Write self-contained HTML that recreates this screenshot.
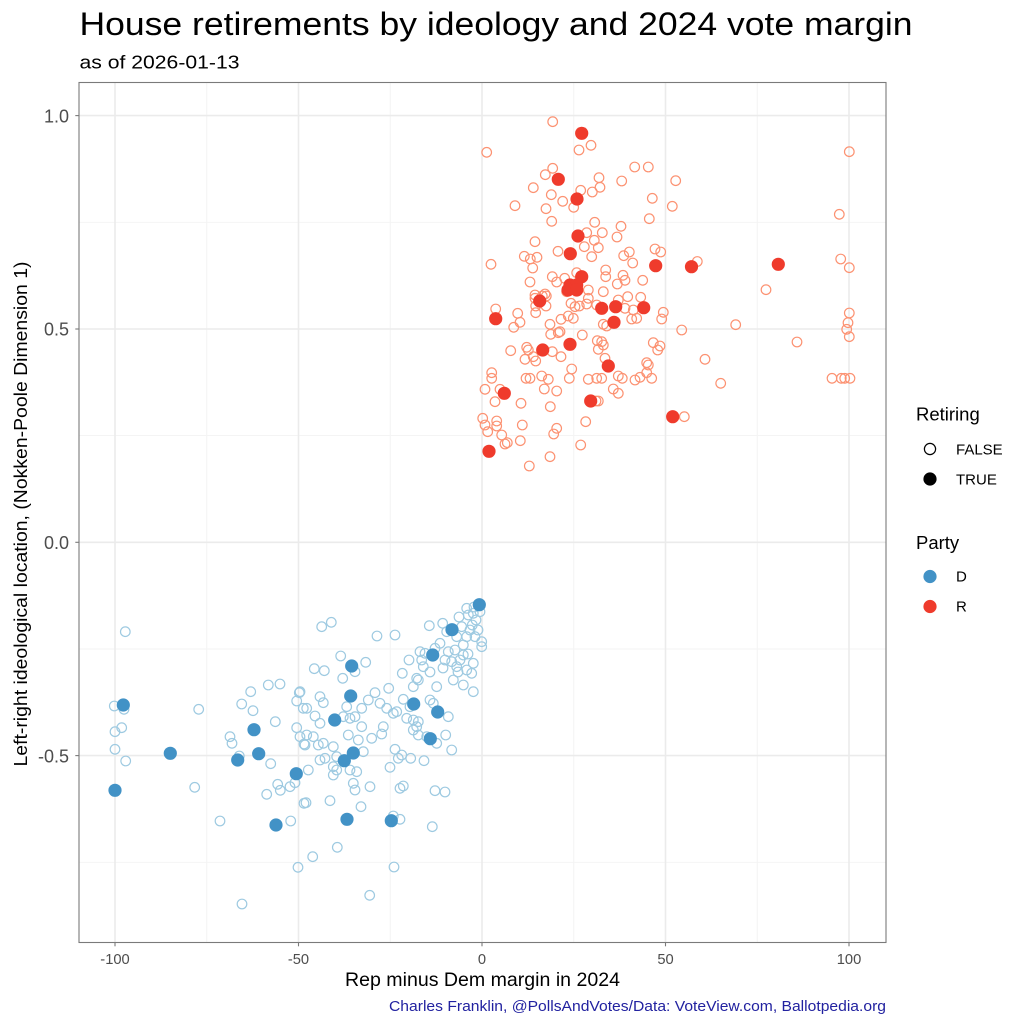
<!DOCTYPE html>
<html><head><meta charset="utf-8"><style>
html,body{margin:0;padding:0;background:#fff;}
svg{display:block;font-family:"Liberation Sans",Arial,sans-serif;}
</style></head><body>
<svg width="1024" height="1024" viewBox="0 0 1024 1024" xmlns="http://www.w3.org/2000/svg">
<rect x="0" y="0" width="1024" height="1024" fill="#fff"/>
<text x="79.5" y="35" font-size="32" fill="#000" textLength="833" lengthAdjust="spacingAndGlyphs">House retirements by ideology and 2024 vote margin</text>
<text x="79.5" y="68.3" font-size="18.5" fill="#000" textLength="160" lengthAdjust="spacingAndGlyphs">as of 2026-01-13</text>
<rect x="79" y="82.5" width="807" height="860" fill="#fff"/>
<g stroke="#f3f3f3" stroke-width="0.9">
<line x1="206.75" y1="82.5" x2="206.75" y2="942.5"/>
<line x1="390.25" y1="82.5" x2="390.25" y2="942.5"/>
<line x1="573.75" y1="82.5" x2="573.75" y2="942.5"/>
<line x1="757.25" y1="82.5" x2="757.25" y2="942.5"/>
<line x1="79" y1="222.3" x2="886" y2="222.3"/>
<line x1="79" y1="435.6" x2="886" y2="435.6"/>
<line x1="79" y1="649" x2="886" y2="649"/>
<line x1="79" y1="862.3" x2="886" y2="862.3"/>
</g>
<g stroke="#ebebeb" stroke-width="1.6">
<line x1="115" y1="82.5" x2="115" y2="942.5"/>
<line x1="298.5" y1="82.5" x2="298.5" y2="942.5"/>
<line x1="482" y1="82.5" x2="482" y2="942.5"/>
<line x1="665.5" y1="82.5" x2="665.5" y2="942.5"/>
<line x1="849" y1="82.5" x2="849" y2="942.5"/>
<line x1="79" y1="115.6" x2="886" y2="115.6"/>
<line x1="79" y1="329" x2="886" y2="329"/>
<line x1="79" y1="542.3" x2="886" y2="542.3"/>
<line x1="79" y1="755.6" x2="886" y2="755.6"/>
</g>
<g fill="none" stroke="#fc9272" stroke-width="1.2">
<circle cx="552.7" cy="121.7" r="4.8"/><circle cx="486.7" cy="152.3" r="4.8"/><circle cx="579" cy="150" r="4.8"/><circle cx="591" cy="145.3" r="4.8"/>
<circle cx="552.7" cy="168.3" r="4.8"/><circle cx="545.3" cy="174.7" r="4.8"/><circle cx="533.3" cy="187.7" r="4.8"/><circle cx="551.3" cy="194.7" r="4.8"/>
<circle cx="515" cy="205.7" r="4.8"/><circle cx="546" cy="208.7" r="4.8"/><circle cx="562.7" cy="201.3" r="4.8"/><circle cx="573.7" cy="207.3" r="4.8"/>
<circle cx="580.7" cy="190.3" r="4.8"/><circle cx="592.3" cy="192" r="4.8"/><circle cx="600" cy="187.3" r="4.8"/><circle cx="599" cy="177.7" r="4.8"/>
<circle cx="621.7" cy="181" r="4.8"/><circle cx="634.7" cy="167" r="4.8"/><circle cx="648.3" cy="167" r="4.8"/><circle cx="675.7" cy="180.7" r="4.8"/>
<circle cx="652.3" cy="198.3" r="4.8"/><circle cx="672.3" cy="206.3" r="4.8"/><circle cx="649.3" cy="218.7" r="4.8"/><circle cx="551.7" cy="221.3" r="4.8"/>
<circle cx="594.7" cy="222.3" r="4.8"/><circle cx="621" cy="226.3" r="4.8"/><circle cx="586.7" cy="232.7" r="4.8"/><circle cx="602.3" cy="232.7" r="4.8"/>
<circle cx="617" cy="237" r="4.8"/><circle cx="594.3" cy="240.3" r="4.8"/><circle cx="535" cy="241.7" r="4.8"/><circle cx="584.3" cy="246.7" r="4.8"/>
<circle cx="598.3" cy="247.7" r="4.8"/><circle cx="558" cy="251.3" r="4.8"/><circle cx="591.7" cy="256.7" r="4.8"/><circle cx="524.3" cy="256.3" r="4.8"/>
<circle cx="530.3" cy="259" r="4.8"/><circle cx="537" cy="257.3" r="4.8"/><circle cx="532.7" cy="268" r="4.8"/><circle cx="491" cy="264.3" r="4.8"/>
<circle cx="623.7" cy="255.7" r="4.8"/><circle cx="629.3" cy="252" r="4.8"/><circle cx="632.7" cy="263" r="4.8"/><circle cx="655" cy="249" r="4.8"/>
<circle cx="660.7" cy="252" r="4.8"/><circle cx="697.3" cy="261.5" r="4.8"/><circle cx="605.7" cy="270" r="4.8"/><circle cx="605.7" cy="276.7" r="4.8"/>
<circle cx="623" cy="275.3" r="4.8"/><circle cx="625" cy="280.3" r="4.8"/><circle cx="617.3" cy="284" r="4.8"/><circle cx="642.7" cy="280.3" r="4.8"/>
<circle cx="552.3" cy="276.7" r="4.8"/><circle cx="530" cy="282" r="4.8"/><circle cx="564.7" cy="278.3" r="4.8"/><circle cx="556.7" cy="282" r="4.8"/>
<circle cx="576.7" cy="272.7" r="4.8"/><circle cx="588.3" cy="290" r="4.8"/><circle cx="603.3" cy="291.7" r="4.8"/><circle cx="535" cy="295" r="4.8"/>
<circle cx="545" cy="294" r="4.8"/><circle cx="495.7" cy="309" r="4.8"/><circle cx="535" cy="298.3" r="4.8"/><circle cx="542.3" cy="296" r="4.8"/>
<circle cx="546.3" cy="296" r="4.8"/><circle cx="535.7" cy="306" r="4.8"/><circle cx="535.7" cy="312.7" r="4.8"/><circle cx="546" cy="306" r="4.8"/>
<circle cx="566.7" cy="291.7" r="4.8"/><circle cx="588.3" cy="298.3" r="4.8"/><circle cx="618.3" cy="300" r="4.8"/><circle cx="627.7" cy="296.7" r="4.8"/>
<circle cx="640.7" cy="297.3" r="4.8"/><circle cx="571" cy="303.3" r="4.8"/><circle cx="579.3" cy="306" r="4.8"/><circle cx="586.7" cy="304" r="4.8"/>
<circle cx="596.7" cy="305" r="4.8"/><circle cx="575" cy="306.7" r="4.8"/><circle cx="517.7" cy="313.3" r="4.8"/><circle cx="520" cy="322.3" r="4.8"/>
<circle cx="513.7" cy="327.3" r="4.8"/><circle cx="561" cy="319.3" r="4.8"/><circle cx="568.3" cy="316" r="4.8"/><circle cx="573.3" cy="318.3" r="4.8"/>
<circle cx="550" cy="324.3" r="4.8"/><circle cx="560" cy="331.7" r="4.8"/><circle cx="550.7" cy="334.3" r="4.8"/><circle cx="558.3" cy="332.7" r="4.8"/>
<circle cx="603.3" cy="324.3" r="4.8"/><circle cx="606.7" cy="326" r="4.8"/><circle cx="631.7" cy="319" r="4.8"/><circle cx="636.7" cy="318.3" r="4.8"/>
<circle cx="625" cy="308.3" r="4.8"/><circle cx="633.3" cy="310" r="4.8"/><circle cx="663.3" cy="312.3" r="4.8"/><circle cx="661.7" cy="319" r="4.8"/>
<circle cx="681.7" cy="330" r="4.8"/><circle cx="582.3" cy="335" r="4.8"/><circle cx="597.3" cy="340.7" r="4.8"/><circle cx="601.7" cy="341.7" r="4.8"/>
<circle cx="598.3" cy="349.3" r="4.8"/><circle cx="603.3" cy="345" r="4.8"/><circle cx="510.7" cy="350.7" r="4.8"/><circle cx="526.7" cy="347.3" r="4.8"/>
<circle cx="528.3" cy="350" r="4.8"/><circle cx="525" cy="359.3" r="4.8"/><circle cx="533.3" cy="356.7" r="4.8"/><circle cx="535.7" cy="361" r="4.8"/>
<circle cx="552.3" cy="351.7" r="4.8"/><circle cx="561" cy="356.7" r="4.8"/><circle cx="605" cy="358.3" r="4.8"/><circle cx="653.3" cy="342.7" r="4.8"/>
<circle cx="660" cy="346" r="4.8"/><circle cx="657.7" cy="350" r="4.8"/><circle cx="646.7" cy="362.7" r="4.8"/><circle cx="648.3" cy="365" r="4.8"/>
<circle cx="571.7" cy="369" r="4.8"/><circle cx="705" cy="359.3" r="4.8"/><circle cx="491.7" cy="372.7" r="4.8"/><circle cx="491.7" cy="378.3" r="4.8"/>
<circle cx="526" cy="378.3" r="4.8"/><circle cx="530" cy="378.3" r="4.8"/><circle cx="541.7" cy="376" r="4.8"/><circle cx="548.3" cy="379.3" r="4.8"/>
<circle cx="569.3" cy="378.3" r="4.8"/><circle cx="588.3" cy="379.3" r="4.8"/><circle cx="596.7" cy="378.3" r="4.8"/><circle cx="601.7" cy="378.3" r="4.8"/>
<circle cx="618.3" cy="376" r="4.8"/><circle cx="622.3" cy="378.3" r="4.8"/><circle cx="635" cy="380" r="4.8"/><circle cx="640" cy="377.3" r="4.8"/>
<circle cx="646.7" cy="372.7" r="4.8"/><circle cx="651.7" cy="378.3" r="4.8"/><circle cx="485" cy="389.3" r="4.8"/><circle cx="500" cy="389.3" r="4.8"/>
<circle cx="495" cy="401.7" r="4.8"/><circle cx="544.3" cy="389" r="4.8"/><circle cx="556.7" cy="391" r="4.8"/><circle cx="613.3" cy="389" r="4.8"/>
<circle cx="618.3" cy="393.3" r="4.8"/><circle cx="596" cy="401" r="4.8"/><circle cx="598.3" cy="401" r="4.8"/><circle cx="521" cy="403.3" r="4.8"/>
<circle cx="550.3" cy="406.7" r="4.8"/><circle cx="684.3" cy="416.7" r="4.8"/><circle cx="482.7" cy="418.3" r="4.8"/><circle cx="485" cy="425" r="4.8"/>
<circle cx="496.7" cy="421" r="4.8"/><circle cx="496.7" cy="426" r="4.8"/><circle cx="487.7" cy="431.7" r="4.8"/><circle cx="522.3" cy="425" r="4.8"/>
<circle cx="501.7" cy="435" r="4.8"/><circle cx="507.3" cy="442.7" r="4.8"/><circle cx="505" cy="444" r="4.8"/><circle cx="520.3" cy="440.7" r="4.8"/>
<circle cx="556.7" cy="428.3" r="4.8"/><circle cx="553.7" cy="434" r="4.8"/><circle cx="585.7" cy="421.7" r="4.8"/><circle cx="580.7" cy="445" r="4.8"/>
<circle cx="550" cy="456.7" r="4.8"/><circle cx="529.3" cy="466" r="4.8"/>
<circle cx="849.3" cy="151.7" r="4.8"/><circle cx="839.3" cy="214.3" r="4.8"/><circle cx="840.7" cy="259" r="4.8"/><circle cx="849.3" cy="267.7" r="4.8"/>
<circle cx="766" cy="289.7" r="4.8"/><circle cx="735.7" cy="324.7" r="4.8"/><circle cx="797" cy="342" r="4.8"/><circle cx="720.7" cy="383.3" r="4.8"/>
<circle cx="849.3" cy="313" r="4.8"/><circle cx="848" cy="322.7" r="4.8"/><circle cx="846.7" cy="329.3" r="4.8"/><circle cx="849.3" cy="336.7" r="4.8"/>
<circle cx="832" cy="378.3" r="4.8"/><circle cx="841.3" cy="378.3" r="4.8"/><circle cx="844.7" cy="378.3" r="4.8"/><circle cx="850" cy="378.3" r="4.8"/>
</g>
<g fill="#ef3b2c">
<circle cx="581.7" cy="133.3" r="6.6"/><circle cx="558.3" cy="179.3" r="6.6"/><circle cx="577" cy="199" r="6.6"/><circle cx="578" cy="236" r="6.6"/>
<circle cx="570.3" cy="253.7" r="6.6"/><circle cx="655.7" cy="265.7" r="6.6"/><circle cx="691.5" cy="266.7" r="6.6"/><circle cx="778.3" cy="264.3" r="6.6"/>
<circle cx="581.7" cy="276.7" r="6.6"/><circle cx="570" cy="285" r="6.6"/><circle cx="576.7" cy="285" r="6.6"/><circle cx="568" cy="290" r="6.6"/>
<circle cx="576.7" cy="290" r="6.6"/><circle cx="539.7" cy="301" r="6.6"/><circle cx="495.7" cy="318.7" r="6.6"/><circle cx="601.7" cy="308.3" r="6.6"/>
<circle cx="615.7" cy="306.7" r="6.6"/><circle cx="643.7" cy="307.7" r="6.6"/><circle cx="614" cy="322.3" r="6.6"/><circle cx="570" cy="344.3" r="6.6"/>
<circle cx="542.7" cy="350" r="6.6"/><circle cx="608.3" cy="366" r="6.6"/><circle cx="504.3" cy="393.3" r="6.6"/><circle cx="590.7" cy="401" r="6.6"/>
<circle cx="672.7" cy="416.7" r="6.6"/><circle cx="489" cy="451.3" r="6.6"/>
</g>
<g fill="none" stroke="#9ecae1" stroke-width="1.2">
<circle cx="125.3" cy="631.7" r="4.8"/><circle cx="114.3" cy="706" r="4.8"/><circle cx="124" cy="709.3" r="4.8"/><circle cx="121.7" cy="727.7" r="4.8"/>
<circle cx="115" cy="731.7" r="4.8"/><circle cx="115" cy="749.3" r="4.8"/><circle cx="125.7" cy="761" r="4.8"/><circle cx="198.7" cy="709.3" r="4.8"/>
<circle cx="194.7" cy="787.3" r="4.8"/><circle cx="220" cy="821" r="4.8"/><circle cx="242" cy="904" r="4.8"/><circle cx="230" cy="736.7" r="4.8"/>
<circle cx="232" cy="743.3" r="4.8"/><circle cx="239.3" cy="756" r="4.8"/><circle cx="241.7" cy="704" r="4.8"/><circle cx="250.7" cy="691.7" r="4.8"/>
<circle cx="253" cy="710.7" r="4.8"/><circle cx="268.3" cy="685" r="4.8"/><circle cx="280" cy="684" r="4.8"/><circle cx="275.3" cy="721.7" r="4.8"/>
<circle cx="270.7" cy="763.7" r="4.8"/><circle cx="266.7" cy="794.3" r="4.8"/><circle cx="277.7" cy="784.3" r="4.8"/><circle cx="280.3" cy="790.3" r="4.8"/>
<circle cx="290" cy="786.7" r="4.8"/><circle cx="295" cy="782.7" r="4.8"/><circle cx="290.7" cy="821" r="4.8"/><circle cx="298" cy="867.3" r="4.8"/>
<circle cx="299.3" cy="692.7" r="4.8"/><circle cx="296.7" cy="701" r="4.8"/><circle cx="296.7" cy="727.7" r="4.8"/><circle cx="300" cy="736.7" r="4.8"/>
<circle cx="304" cy="744" r="4.8"/><circle cx="303.3" cy="708.3" r="4.8"/><circle cx="304" cy="803.3" r="4.8"/>
<circle cx="321.7" cy="626.7" r="4.8"/><circle cx="331.3" cy="622.3" r="4.8"/><circle cx="377" cy="636" r="4.8"/><circle cx="395" cy="635" r="4.8"/>
<circle cx="429.3" cy="625.7" r="4.8"/><circle cx="442.7" cy="623.3" r="4.8"/><circle cx="466.7" cy="608.3" r="4.8"/><circle cx="473.3" cy="613.3" r="4.8"/>
<circle cx="468.3" cy="615" r="4.8"/><circle cx="480" cy="611.7" r="4.8"/><circle cx="472.3" cy="625" r="4.8"/><circle cx="461.7" cy="626.7" r="4.8"/>
<circle cx="475" cy="636.7" r="4.8"/><circle cx="466.7" cy="636.7" r="4.8"/><circle cx="481.7" cy="641.7" r="4.8"/><circle cx="481.7" cy="646.7" r="4.8"/>
<circle cx="463.3" cy="645" r="4.8"/><circle cx="456.7" cy="636.7" r="4.8"/><circle cx="446.7" cy="631.7" r="4.8"/><circle cx="476" cy="620" r="4.8"/>
<circle cx="470" cy="630" r="4.8"/><circle cx="478" cy="630" r="4.8"/><circle cx="459" cy="617" r="4.8"/><circle cx="474" cy="607" r="4.8"/>
<circle cx="340.7" cy="656" r="4.8"/><circle cx="365.7" cy="662.3" r="4.8"/><circle cx="314.3" cy="668.7" r="4.8"/><circle cx="324.3" cy="670.7" r="4.8"/>
<circle cx="342.7" cy="678.3" r="4.8"/><circle cx="355" cy="671.7" r="4.8"/><circle cx="409" cy="660" r="4.8"/><circle cx="420" cy="651.7" r="4.8"/>
<circle cx="425" cy="653.3" r="4.8"/><circle cx="421.7" cy="660" r="4.8"/><circle cx="423.3" cy="666.7" r="4.8"/><circle cx="435" cy="648.3" r="4.8"/>
<circle cx="440" cy="643.3" r="4.8"/><circle cx="448.3" cy="651.7" r="4.8"/><circle cx="455" cy="650" r="4.8"/><circle cx="463.3" cy="655" r="4.8"/>
<circle cx="473.3" cy="663.3" r="4.8"/><circle cx="451.7" cy="661.7" r="4.8"/><circle cx="456.7" cy="666.7" r="4.8"/><circle cx="466.7" cy="670" r="4.8"/>
<circle cx="471.7" cy="673.3" r="4.8"/><circle cx="453.3" cy="680" r="4.8"/><circle cx="463.3" cy="685" r="4.8"/><circle cx="473.3" cy="691.7" r="4.8"/>
<circle cx="436.7" cy="686.7" r="4.8"/><circle cx="416.7" cy="678.3" r="4.8"/><circle cx="413.3" cy="686.7" r="4.8"/><circle cx="418.3" cy="680" r="4.8"/>
<circle cx="402.3" cy="673.3" r="4.8"/><circle cx="445" cy="660" r="4.8"/><circle cx="460" cy="660" r="4.8"/><circle cx="443" cy="668" r="4.8"/>
<circle cx="430" cy="672" r="4.8"/><circle cx="468" cy="654" r="4.8"/><circle cx="458" cy="672" r="4.8"/>
<circle cx="388.7" cy="688.3" r="4.8"/><circle cx="375" cy="692.7" r="4.8"/><circle cx="368.3" cy="700" r="4.8"/><circle cx="380" cy="703.3" r="4.8"/>
<circle cx="386.7" cy="708.3" r="4.8"/><circle cx="396.7" cy="711.7" r="4.8"/><circle cx="403.3" cy="699.3" r="4.8"/><circle cx="410" cy="706.7" r="4.8"/>
<circle cx="300" cy="691.7" r="4.8"/><circle cx="306.7" cy="708.3" r="4.8"/><circle cx="320" cy="696.7" r="4.8"/><circle cx="323.3" cy="702.7" r="4.8"/>
<circle cx="315" cy="716" r="4.8"/><circle cx="320" cy="723.3" r="4.8"/><circle cx="306.7" cy="735" r="4.8"/><circle cx="313.3" cy="736.7" r="4.8"/>
<circle cx="305" cy="745" r="4.8"/><circle cx="346.7" cy="706.7" r="4.8"/><circle cx="343.3" cy="716.7" r="4.8"/><circle cx="350" cy="718.3" r="4.8"/>
<circle cx="355" cy="716.7" r="4.8"/><circle cx="361.7" cy="708.3" r="4.8"/><circle cx="361.7" cy="726.7" r="4.8"/><circle cx="348.3" cy="735" r="4.8"/>
<circle cx="358.3" cy="740" r="4.8"/><circle cx="371.7" cy="738.3" r="4.8"/><circle cx="383.3" cy="726.7" r="4.8"/><circle cx="381.7" cy="734" r="4.8"/>
<circle cx="363.3" cy="751.7" r="4.8"/><circle cx="393.3" cy="713.3" r="4.8"/><circle cx="406.7" cy="718.3" r="4.8"/><circle cx="413.3" cy="720" r="4.8"/>
<circle cx="418.3" cy="721.7" r="4.8"/><circle cx="416.7" cy="726.7" r="4.8"/><circle cx="413.3" cy="730" r="4.8"/><circle cx="418.3" cy="735" r="4.8"/>
<circle cx="430" cy="700" r="4.8"/><circle cx="433.3" cy="703.3" r="4.8"/><circle cx="448.3" cy="716.7" r="4.8"/><circle cx="426.7" cy="736.7" r="4.8"/>
<circle cx="436.7" cy="743.3" r="4.8"/><circle cx="445.7" cy="735" r="4.8"/><circle cx="451.7" cy="750" r="4.8"/><circle cx="424" cy="760.7" r="4.8"/>
<circle cx="395" cy="749.3" r="4.8"/><circle cx="398.3" cy="758.3" r="4.8"/><circle cx="401.7" cy="755" r="4.8"/><circle cx="410.7" cy="758.3" r="4.8"/>
<circle cx="390" cy="767.3" r="4.8"/><circle cx="318.3" cy="745" r="4.8"/><circle cx="323.3" cy="743.3" r="4.8"/><circle cx="333.3" cy="746.7" r="4.8"/>
<circle cx="320" cy="760" r="4.8"/><circle cx="325" cy="758.3" r="4.8"/><circle cx="333.3" cy="766.7" r="4.8"/><circle cx="336.7" cy="770" r="4.8"/>
<circle cx="333.3" cy="775" r="4.8"/><circle cx="350" cy="770" r="4.8"/><circle cx="356.7" cy="771.7" r="4.8"/><circle cx="308.3" cy="770" r="4.8"/>
<circle cx="336.7" cy="756.7" r="4.8"/><circle cx="353.3" cy="783.3" r="4.8"/><circle cx="355" cy="790" r="4.8"/><circle cx="370" cy="786.7" r="4.8"/>
<circle cx="400" cy="788.3" r="4.8"/><circle cx="403.3" cy="786" r="4.8"/><circle cx="435" cy="790.7" r="4.8"/><circle cx="445" cy="792" r="4.8"/>
<circle cx="306" cy="802.7" r="4.8"/><circle cx="330" cy="800.7" r="4.8"/><circle cx="361" cy="806.7" r="4.8"/><circle cx="393.3" cy="816" r="4.8"/>
<circle cx="400" cy="819.3" r="4.8"/><circle cx="432.3" cy="826.7" r="4.8"/><circle cx="337.3" cy="847.3" r="4.8"/><circle cx="312.7" cy="856.7" r="4.8"/>
<circle cx="394" cy="867" r="4.8"/><circle cx="369.7" cy="895.3" r="4.8"/>
</g>
<g fill="#4292c6">
<circle cx="123.3" cy="705" r="6.6"/><circle cx="170.3" cy="753.3" r="6.6"/><circle cx="115" cy="790.3" r="6.6"/><circle cx="254" cy="729.7" r="6.6"/>
<circle cx="258.7" cy="753.7" r="6.6"/><circle cx="237.7" cy="760" r="6.6"/><circle cx="296.3" cy="773.7" r="6.6"/><circle cx="276" cy="825" r="6.6"/>
<circle cx="479.3" cy="604.7" r="6.6"/><circle cx="452" cy="629.7" r="6.6"/><circle cx="432.7" cy="655" r="6.6"/><circle cx="351.7" cy="666" r="6.6"/>
<circle cx="350.7" cy="696" r="6.6"/><circle cx="413.7" cy="704" r="6.6"/><circle cx="437.7" cy="712" r="6.6"/><circle cx="334.7" cy="720" r="6.6"/>
<circle cx="430.3" cy="738.7" r="6.6"/><circle cx="353.3" cy="753" r="6.6"/><circle cx="344.3" cy="760.7" r="6.6"/><circle cx="347" cy="819.3" r="6.6"/>
<circle cx="391.3" cy="820.7" r="6.6"/>
</g>
<rect x="79" y="82.5" width="807" height="860" fill="none" stroke="#7a7a7a" stroke-width="1.1"/>
<g stroke="#7a7a7a" stroke-width="1.1">
<line x1="75.3" y1="115.6" x2="79" y2="115.6"/>
<line x1="75.3" y1="329" x2="79" y2="329"/>
<line x1="75.3" y1="542.3" x2="79" y2="542.3"/>
<line x1="75.3" y1="755.6" x2="79" y2="755.6"/>
<line x1="115" y1="942.5" x2="115" y2="946.3"/>
<line x1="298.5" y1="942.5" x2="298.5" y2="946.3"/>
<line x1="482" y1="942.5" x2="482" y2="946.3"/>
<line x1="665.5" y1="942.5" x2="665.5" y2="946.3"/>
<line x1="849" y1="942.5" x2="849" y2="946.3"/>
</g>
<g font-size="18" fill="#4d4d4d" text-anchor="end">
<text x="69" y="122.3">1.0</text>
<text x="69" y="335.7">0.5</text>
<text x="69" y="549">0.0</text>
<text x="69" y="762.3">-0.5</text>
</g>
<g font-size="14.7" fill="#4d4d4d" text-anchor="middle">
<text x="115" y="964">-100</text>
<text x="298.5" y="964">-50</text>
<text x="482" y="964">0</text>
<text x="665.5" y="964">50</text>
<text x="849" y="964">100</text>
</g>
<text x="482.5" y="986" font-size="19.5" fill="#000" text-anchor="middle" textLength="275" lengthAdjust="spacingAndGlyphs">Rep minus Dem margin in 2024</text>
<text transform="translate(27,514) rotate(-90)" x="0" y="0" font-size="18.5" fill="#000" text-anchor="middle" textLength="505" lengthAdjust="spacingAndGlyphs">Left-right ideological location, (Nokken-Poole Dimension 1)</text>
<text x="886" y="1011" font-size="14.5" fill="#2222a0" text-anchor="end" textLength="497" lengthAdjust="spacingAndGlyphs">Charles Franklin, @PollsAndVotes/Data: VoteView.com, Ballotpedia.org</text>
<text x="916" y="420.5" font-size="18.5" fill="#000">Retiring</text>
<circle cx="930" cy="449" r="5.6" fill="none" stroke="#000" stroke-width="1.2"/>
<text x="956" y="454.3" font-size="15" fill="#000">FALSE</text>
<circle cx="930" cy="479" r="6.6" fill="#000"/>
<text x="956" y="484.3" font-size="15" fill="#000">TRUE</text>
<text x="916" y="549" font-size="18.5" fill="#000">Party</text>
<circle cx="930" cy="576.5" r="6.6" fill="#4292c6"/>
<text x="956" y="581.5" font-size="15" fill="#000">D</text>
<circle cx="930" cy="606.5" r="6.6" fill="#ef3b2c"/>
<text x="956" y="611.5" font-size="15" fill="#000">R</text>
</svg>
</body></html>
